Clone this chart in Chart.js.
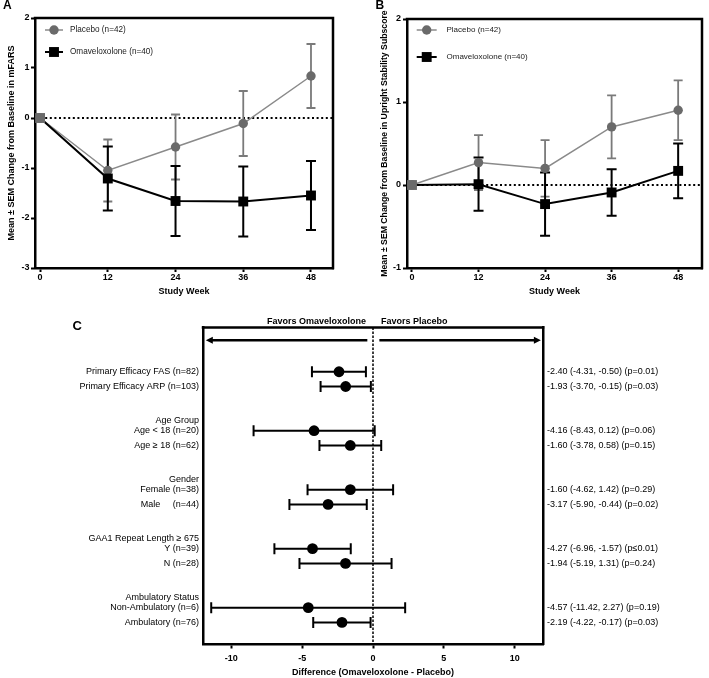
<!DOCTYPE html>
<html>
<head>
<meta charset="utf-8">
<script src="https://cdn.jsdelivr.net/npm/chart.js@4.4.1/dist/chart.umd.min.js"></script>
<style>
  html, body { margin: 0; padding: 0; background: #fff; }
  #page { position: relative; width: 709px; height: 678px; overflow: hidden; }
  canvas { position: absolute; }
  #chartA { left: 0; top: 0; }
  #chartB { left: 355px; top: 0; }
  #chartC { left: 0; top: 300px; }
</style>
</head>
<body>
<div id="page">
  <canvas id="chartA" width="355" height="300"></canvas>
  <canvas id="chartB" width="354" height="300"></canvas>
  <canvas id="chartC" width="709" height="378"></canvas>
</div>
<script>
// ---- data ----
const studyWeeks = [0, 12, 24, 36, 48];
const weekTicks = [0, 12, 24, 36, 48];

const placeboLabel = 'Placebo (n=42)';
const omavLabel = 'Omaveloxolone (n=40)';

// panel A: change in mFARS (mean, SEM)
const mfarsPlaceboMean = [0, -1.05, -0.58, -0.11, 0.84];
const mfarsPlaceboSem = [0, 0.62, 0.65, 0.65, 0.64];
const mfarsOmavMean = [0, -1.21, -1.66, -1.67, -1.55];
const mfarsOmavSem = [0, 0.64, 0.70, 0.70, 0.69];

// panel B: change in upright stability subscore (mean, SEM)
const uprightPlaceboMean = [0, 0.27, 0.20, 0.70, 0.90];
const uprightPlaceboSem = [0, 0.33, 0.34, 0.38, 0.36];
const uprightOmavMean = [0, 0.01, -0.23, -0.09, 0.17];
const uprightOmavSem = [0, 0.32, 0.38, 0.28, 0.33];

// panel C: forest plot
const groupHeaders = ['', 'Age Group', 'Gender', 'GAA1 Repeat Length \u2265 675', 'Ambulatory Status'];
const subgroupLabels = [
  'Primary Efficacy FAS (n=82)', 'Primary Efficacy ARP (n=103)',
  'Age < 18 (n=20)', 'Age \u2265 18 (n=62)',
  'Female (n=38)', 'Male     (n=44)',
  'Y (n=39)', 'N (n=28)',
  'Non-Ambulatory (n=6)', 'Ambulatory (n=76)'
];
const diffEstimate = [-2.40, -1.93, -4.16, -1.60, -1.60, -3.17, -4.27, -1.94, -4.57, -2.19];
const diffLower = [-4.31, -3.70, -8.43, -3.78, -4.62, -5.90, -6.96, -5.19, -11.42, -4.22];
const diffUpper = [-0.50, -0.15, 0.12, 0.58, 1.42, -0.44, -1.57, 1.31, 2.27, -0.17];
const pLabels = ['p=0.01', 'p=0.03', 'p=0.06', 'p=0.15', 'p=0.29', 'p=0.02', 'p\u22640.01', 'p=0.24', 'p=0.19', 'p=0.03'];
const diffTicks = [-10, -5, 0, 5, 10];

// ---- styling ----
const FONT = "'Liberation Sans', Arial, Helvetica, sans-serif";
const GRAY_MARK = '#6a6a6a';
const GRAY_LINE = '#8a8a8a';
const GRAY_ERR = '#7a7a7a';

Chart.defaults.font.family = FONT;
Chart.defaults.font.size = 9;
Chart.defaults.color = '#000';
Chart.defaults.animation = false;
Chart.defaults.plugins.legend.display = false;
Chart.defaults.plugins.tooltip.enabled = false;

// error bars drawn under the markers, from the dataset's low/high arrays
const errorBarPlugin = {
  id: 'errorBars',
  beforeDatasetsDraw(chart) {
    const ctx = chart.ctx;
    const xs = chart.scales.x, ys = chart.scales.y;
    chart.data.datasets.forEach((ds, di) => {
      const eb = ds.errorBars;
      if (!eb) return;
      const meta = chart.getDatasetMeta(di);
      ctx.save();
      ctx.strokeStyle = eb.color;
      ctx.lineWidth = eb.width;
      meta.data.forEach((pt, i) => {
        const lo = eb.low[i], hi = eb.high[i];
        if (lo === hi) return;
        const c = eb.cap / 2;
        ctx.beginPath();
        if (eb.horizontal) {
          const x1 = xs.getPixelForValue(lo), x2 = xs.getPixelForValue(hi);
          ctx.moveTo(x1, pt.y); ctx.lineTo(x2, pt.y);
          ctx.moveTo(x1, pt.y - c); ctx.lineTo(x1, pt.y + c);
          ctx.moveTo(x2, pt.y - c); ctx.lineTo(x2, pt.y + c);
        } else {
          const y1 = ys.getPixelForValue(lo), y2 = ys.getPixelForValue(hi);
          ctx.moveTo(pt.x, y1); ctx.lineTo(pt.x, y2);
          ctx.moveTo(pt.x - c, y1); ctx.lineTo(pt.x + c, y1);
          ctx.moveTo(pt.x - c, y2); ctx.lineTo(pt.x + c, y2);
        }
        ctx.stroke();
      });
      ctx.restore();
    });
  }
};

// dotted / dashed reference line at 0
const refLinePlugin = {
  id: 'refLine',
  beforeDatasetsDraw(chart, args, o) {
    const {ctx, chartArea: a} = chart;
    ctx.save();
    ctx.strokeStyle = '#000';
    ctx.lineWidth = o.width;
    ctx.setLineDash(o.dash);
    ctx.beginPath();
    if (o.axis === 'y') {
      const y = chart.scales.y.getPixelForValue(0);
      ctx.moveTo(a.left + 1, y); ctx.lineTo(a.right, y);
    } else {
      const x = chart.scales.x.getPixelForValue(0);
      ctx.moveTo(x, a.top); ctx.lineTo(x, a.bottom);
    }
    ctx.stroke();
    ctx.restore();
  }
};

// top / right frame lines and the panel letter
const framePlugin = {
  id: 'frame',
  afterDraw(chart, args, o) {
    const {ctx, chartArea: a} = chart;
    ctx.save();
    ctx.strokeStyle = '#000';
    ctx.lineWidth = 2.5;
    ctx.beginPath();
    ctx.moveTo(a.left - 1.25, a.top);
    ctx.lineTo(a.right + 1.25, a.top);
    if (o.right) {
      ctx.moveTo(a.right, a.top);
      ctx.lineTo(a.right, a.bottom + 1.25);
    }
    ctx.stroke();
    ctx.fillStyle = '#000';
    ctx.font = 'bold ' + o.letterSize + 'px ' + FONT;
    ctx.textBaseline = 'alphabetic';
    ctx.fillText(o.letter, o.letterX, o.letterY);
    ctx.restore();
  }
};

// legend drawn inside the plot area, line through the marker
const insideLegendPlugin = {
  id: 'insideLegend',
  afterDatasetsDraw(chart, args, o) {
    const {ctx, chartArea: a} = chart;
    chart.data.datasets.forEach((ds, i) => {
      const cx = a.left + o.x, cy = a.top + o.y + i * o.gap;
      ctx.save();
      ctx.strokeStyle = ds.borderColor;
      ctx.lineWidth = ds.borderWidth;
      ctx.beginPath();
      ctx.moveTo(cx - o.half, cy); ctx.lineTo(cx + o.half, cy);
      ctx.stroke();
      ctx.fillStyle = ds.legendColor;
      ctx.beginPath();
      if (ds.pointStyle === 'rect') {
        const s = Math.SQRT1_2 * ds.pointRadius;
        ctx.rect(cx - s, cy - s, 2 * s, 2 * s);
      } else {
        ctx.arc(cx, cy, ds.pointRadius, 0, Math.PI * 2);
      }
      ctx.fill();
      ctx.fillStyle = '#1a1a1a';
      ctx.font = o.fontSize + 'px ' + FONT;
      ctx.textBaseline = 'middle';
      ctx.fillText(ds.label, a.left + o.textX, cy);
      ctx.restore();
    });
  }
};

function seriesPoints(means) {
  return studyWeeks.map((w, i) => ({x: w, y: means[i]}));
}

function makeTrendChart(id, p) {
  return new Chart(document.getElementById(id), {
    type: 'scatter',
    data: {
      datasets: [{
        label: placeboLabel,
        data: seriesPoints(p.placeboMean),
        showLine: true,
        borderColor: GRAY_LINE,
        borderWidth: 1.5,
        pointStyle: 'circle',
        pointRadius: 4.7,
        pointBackgroundColor: GRAY_MARK,
        pointBorderWidth: 0,
        legendColor: GRAY_MARK,
        order: 1,
        errorBars: {
          low: p.placeboMean.map((m, i) => m - p.placeboSem[i]),
          high: p.placeboMean.map((m, i) => m + p.placeboSem[i]),
          color: GRAY_ERR, width: 1.8, cap: 9
        }
      }, {
        label: omavLabel,
        data: seriesPoints(p.omavMean),
        showLine: true,
        borderColor: '#000',
        borderWidth: 2,
        pointStyle: 'rect',
        pointRadius: 7,
        pointBackgroundColor: studyWeeks.map((w, i) => i === 0 ? GRAY_MARK : '#000'),
        pointBorderWidth: 0,
        legendColor: '#000',
        order: 0,
        errorBars: {
          low: p.omavMean.map((m, i) => m - p.omavSem[i]),
          high: p.omavMean.map((m, i) => m + p.omavSem[i]),
          color: '#000', width: 2, cap: 10
        }
      }]
    },
    options: {
      responsive: false,
      layout: {padding: {top: p.top, right: p.right, left: 0, bottom: 0}},
      scales: {
        x: {
          type: 'linear', min: -0.9, max: p.xMax,
          afterBuildTicks: s => { s.ticks = weekTicks.map(v => ({value: v})); },
          afterFit: s => { s.height = 32; },
          ticks: {font: {size: 9, weight: 'bold'}, padding: 0, maxRotation: 0, autoSkip: false},
          grid: {drawOnChartArea: false, tickLength: 4, tickWidth: 2, tickColor: '#000'},
          border: {color: '#000', width: 2.5},
          title: {display: true, text: 'Study Week', font: {size: 9, weight: 'bold'}, padding: {top: 0, bottom: 2.6}}
        },
        y: {
          type: 'linear', min: p.yMin, max: p.yMax,
          afterFit: s => { s.width = p.yWidth; },
          ticks: {stepSize: 1, font: {size: 9, weight: 'bold'}, padding: p.tickPad},
          grid: {drawOnChartArea: false, tickLength: 4, tickWidth: 2, tickColor: '#000'},
          border: {color: '#000', width: 2.5},
          title: {display: true, text: p.yTitle, font: {size: p.yTitleSize, weight: 'bold'}, padding: {top: p.yTitlePad, bottom: 0}}
        }
      },
      plugins: {
        refLine: {axis: 'y', width: 2, dash: [2, 2.6]},
        frame: {right: true, letter: p.letter, letterX: p.letterX, letterY: 8.6, letterSize: 12},
        insideLegend: p.legend
      }
    },
    plugins: [refLinePlugin, errorBarPlugin, insideLegendPlugin, framePlugin]
  });
}

makeTrendChart('chartA', {
  placeboMean: mfarsPlaceboMean, placeboSem: mfarsPlaceboSem,
  omavMean: mfarsOmavMean, omavSem: mfarsOmavSem,
  yMin: -3, yMax: 2, xMax: 51.9,
  yTitle: 'Mean \u00b1 SEM Change from Baseline in mFARS', yTitleSize: 9, yTitlePad: 6.6,
  yWidth: 35, tickPad: 1.5, top: 18, right: 22,
  letter: 'A', letterX: 3,
  legend: {x: 19, y: 12, gap: 22, half: 9, textX: 35, fontSize: 8.2}
});

makeTrendChart('chartB', {
  placeboMean: uprightPlaceboMean, placeboSem: uprightPlaceboSem,
  omavMean: uprightOmavMean, omavSem: uprightOmavSem,
  yMin: -1, yMax: 2, xMax: 52.3,
  yTitle: 'Mean \u00b1 SEM Change from Baseline in Upright Stability Subscore', yTitleSize: 8.7, yTitlePad: 24,
  yWidth: 52, tickPad: 2, top: 19, right: 1.5,
  letter: 'B', letterX: 20.5,
  legend: {x: 19.7, y: 11, gap: 27, half: 10, textX: 39.5, fontSize: 8}
});

// ---- panel C: forest plot ----
const fmt = v => v.toFixed(2);
const rowPos = subgroupLabels.map((_, i) => 3 + 4 * Math.floor(i / 2) + (i % 2));
const headerPos = groupHeaders.map((_, g) => 3 + 4 * g - 0.7);

const leftText = new Map();
rowPos.forEach((v, i) => leftText.set(fmt(v), subgroupLabels[i]));
groupHeaders.forEach((h, g) => { if (h) leftText.set(fmt(headerPos[g]), h); });

const rightText = new Map();
rowPos.forEach((v, i) => rightText.set(fmt(v),
  fmt(diffEstimate[i]) + ' (' + fmt(diffLower[i]) + ', ' + fmt(diffUpper[i]) + ') (' + pLabels[i] + ')'));

const favorsPlugin = {
  id: 'favors',
  afterDraw(chart) {
    const {ctx, chartArea: a} = chart;
    const xs = chart.scales.x, ys = chart.scales.y;
    const x0 = xs.getPixelForValue(0);
    const ay = ys.getPixelForValue(0.86);
    ctx.save();
    ctx.strokeStyle = '#000';
    ctx.fillStyle = '#000';
    ctx.lineWidth = 2.5;
    // frame top
    ctx.beginPath();
    ctx.moveTo(a.left - 1.25, a.top); ctx.lineTo(a.right + 1.25, a.top);
    ctx.stroke();
    // arrows
    const arrow = (from, to) => {
      const x1 = xs.getPixelForValue(from), x2 = xs.getPixelForValue(to);
      const d = Math.sign(x2 - x1);
      ctx.beginPath();
      ctx.moveTo(x1, ay); ctx.lineTo(x2 - d * 6, ay);
      ctx.stroke();
      ctx.beginPath();
      ctx.moveTo(x2, ay); ctx.lineTo(x2 - d * 7, ay - 3.5); ctx.lineTo(x2 - d * 7, ay + 3.5);
      ctx.closePath();
      ctx.fill();
    };
    arrow(-0.4, -11.8);
    arrow(0.45, 11.85);
    // labels
    ctx.font = 'bold 9px ' + FONT;
    ctx.textBaseline = 'middle';
    ctx.textAlign = 'right';
    ctx.fillText('Favors Omaveloxolone', x0 - 7, a.top - 5.5);
    ctx.textAlign = 'left';
    ctx.fillText('Favors Placebo', x0 + 8, a.top - 5.5);
    ctx.font = 'bold 13px ' + FONT;
    ctx.fillText('C', 72.5, 26);
    ctx.restore();
  }
};

new Chart(document.getElementById('chartC'), {
  type: 'scatter',
  data: {
    datasets: [{
      label: 'Difference',
      data: rowPos.map((y, i) => ({x: diffEstimate[i], y: y})),
      pointStyle: 'circle',
      pointRadius: 5.4,
      pointBackgroundColor: '#000',
      pointBorderWidth: 0,
      errorBars: {low: diffLower, high: diffUpper, horizontal: true, color: '#000', width: 2, cap: 11}
    }]
  },
  options: {
    responsive: false,
    layout: {padding: {top: 27.5, right: 0, left: 0, bottom: 0}},
    scales: {
      x: {
        type: 'linear', min: -12, max: 12,
        afterBuildTicks: s => { s.ticks = diffTicks.map(v => ({value: v})); },
        afterFit: s => { s.height = 33.5; },
        ticks: {font: {size: 9, weight: 'bold'}, padding: 5, maxRotation: 0, autoSkip: false},
        grid: {drawOnChartArea: false, tickLength: 4, tickWidth: 2, tickColor: '#000'},
        border: {color: '#000', width: 2.5},
        title: {display: true, text: 'Difference (Omaveloxolone - Placebo)', font: {size: 9, weight: 'bold'}, padding: {top: 0, bottom: 0}}
      },
      y: {
        type: 'linear', position: 'left', min: 0, max: 21.5, reverse: true,
        afterBuildTicks: s => { s.ticks = [...leftText.keys()].map(Number).sort((a, b) => a - b).map(v => ({value: v})); },
        afterFit: s => { s.width = 203; },
        ticks: {font: {size: 9}, padding: 4, autoSkip: false, callback: v => leftText.get(fmt(v)) || ''},
        grid: {display: false, drawTicks: false},
        border: {display: true, color: '#000', width: 2.5}
      },
      y2: {
        type: 'linear', axis: 'y', position: 'right', min: 0, max: 21.5, reverse: true,
        afterBuildTicks: s => { s.ticks = rowPos.map(v => ({value: v})); },
        afterFit: s => { s.width = 166; },
        ticks: {font: {size: 9}, padding: 4, autoSkip: false, callback: v => rightText.get(fmt(v)) || ''},
        grid: {display: false, drawTicks: false},
        border: {display: true, color: '#000', width: 2.5}
      }
    },
    plugins: {
      refLine: {axis: 'x', width: 1.5, dash: [2.5, 1.5]}
    }
  },
  plugins: [refLinePlugin, errorBarPlugin, favorsPlugin]
});
</script>
</body>
</html>
